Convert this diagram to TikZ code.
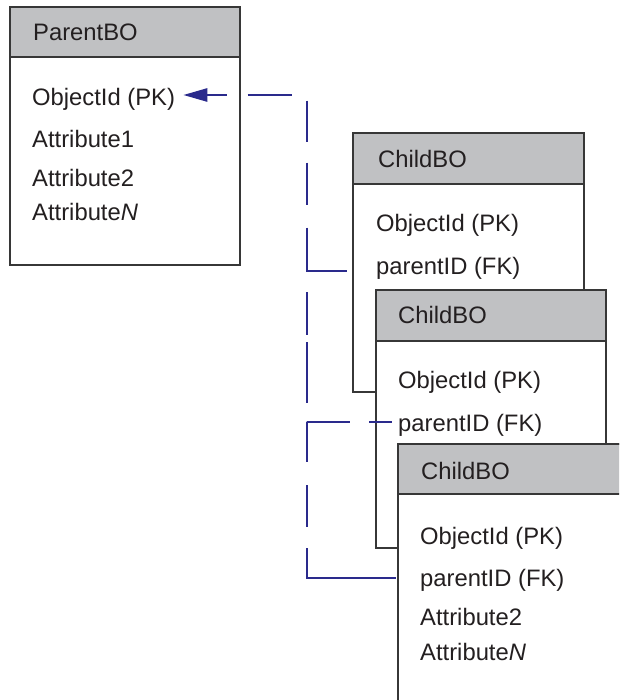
\documentclass[tikz,border=0pt]{standalone}
\usepackage{fontspec}
\setmainfont{Liberation Sans}
\usetikzlibrary{arrows.meta,calc}
\definecolor{hdr}{RGB}{192,193,195}
\definecolor{edge}{RGB}{55,55,55}
\definecolor{link}{RGB}{42,42,140}
\definecolor{ink}{RGB}{35,31,32}
\tikzset{
  boxbody/.style={draw=edge, fill=white, line width=1.1pt},
  boxhead/.style={draw=edge, fill=hdr, line width=1.1pt},
  row/.style={anchor=base west, inner sep=0pt, text=ink, font=\fontsize{23.8}{28}\selectfont},
  conn/.style={draw=link, line width=2.5pt},
  pktip/.style={{Triangle[length=24pt,width=13pt]}-}
}
\begin{document}
\begin{tikzpicture}[x=1pt,y=-1pt]
\useasboundingbox (0,0) rectangle (619,700);
\clip (0,0) rectangle (619,700);
% ParentBO
\path[boxbody] (10,7) rectangle (240,265);
\path[boxhead] (10,7) rectangle (240,57);
\node[row] (ptitle) at (33,41) {ParentBO};
\node[row] (ppk) at (32,106) {ObjectId (PK)};
\node[row] (pa1) at (32,148) {Attribute1};
\node[row] (pa2) at (32,187) {Attribute2};
\node[row] (pan) at (32,221) {Attribute\textit{N}};
% ChildBO 1
\path[boxbody] (353,133) rectangle (584,392);
\path[boxhead] (353,133) rectangle (584,184);
\node[row] (c1title) at (378,168) {ChildBO};
\node[row] (c1pk) at (376,232) {ObjectId (PK)};
\node[row] (c1fk) at (376,274) {parentID (FK)};
% ChildBO 2
\path[boxbody] (376,290) rectangle (606,548);
\path[boxhead] (376,290) rectangle (606,341);
\node[row] (c2title) at (398,323) {ChildBO};
\node[row] (c2pk) at (398,388) {ObjectId (PK)};
\node[row] (c2fk) at (398,431) {parentID (FK)};
% ChildBO 3
\path[boxbody] (398,444) rectangle (640,720);
\path[boxhead] (398,444) rectangle (640,494);
\node[row] (c3title) at (421,479) {ChildBO};
\node[row] (c3pk) at (420,544) {ObjectId (PK)};
\node[row] (c3fk) at (420,586) {parentID (FK)};
\node[row] (c3a2) at (420,625) {Attribute2};
\node[row] (c3an) at (420,660) {Attribute\textit{N}};
% connectors
\coordinate (top) at (307,95);
\coordinate (j1) at (307,271);
\coordinate (j2) at (307,422);
\coordinate (bot) at (307,578);
\draw[conn,pktip,dash pattern=on 20pt off 21pt on 44pt off 21pt on 41pt off 21pt on 42pt off 23pt on 300pt off 10pt]
  ([xshift=8pt,yshift=11pt]ppk.base east) -- (top) -- (j1) -- ([xshift=-29pt,yshift=3pt]c1fk.base west);
\draw[conn,dash pattern=on 0pt off 21pt on 43pt off 7pt on 61pt off 19pt on 43pt off 19pt on 300pt off 10pt]
  (j1) -- (j2) -- ([xshift=-6pt,yshift=9pt]c2fk.base west);
\draw[conn,dash pattern=on 40pt off 23pt on 42pt off 21pt on 300pt off 10pt]
  (j2) -- (bot) -- ([xshift=-24pt,yshift=8pt]c3fk.base west);
\end{tikzpicture}
\end{document}
